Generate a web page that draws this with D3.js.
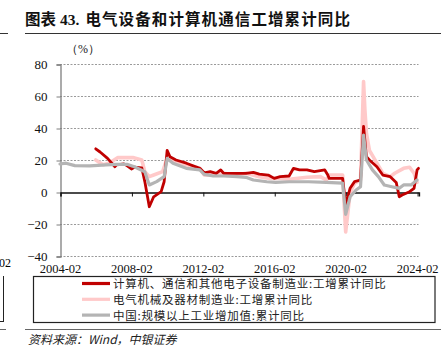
<!DOCTYPE html>
<html><head><meta charset="utf-8">
<script src="https://cdn.jsdelivr.net/npm/d3@7"></script>
<style>
html,body{margin:0;padding:0;background:#fff;}
svg{display:block;}
</style></head>
<body>
<script>
// ---- data ----
const seriesNames = ["计算机、通信和其他电子设备制造业:工增累计同比","电气机械及器材制造业:工增累计同比","中国:规模以上工业增加值:累计同比"];
const yTicks = [-40,-20,0,20,40,60,80];
const xTickLabels = ["2004-02","2008-02","2012-02","2016-02","2020-02","2024-02"];
const redData = [
["2006-02",27],["2006-05",25],["2006-10",21],["2007-03",15.8],["2007-04",17],["2007-09",17.5],["2007-11",16.5],
["2008-02",14.4],["2008-04",15.5],["2008-09",15],["2008-11",6.5],["2009-02",-9.2],["2009-05",-3],["2009-10",0.2],
["2009-12",6.4],["2010-02",26],["2010-04",22],["2010-08",20],["2011-03",18],["2011-12",14.8],["2012-03",12],
["2012-07",12.7],["2012-11",11.7],["2013-02",13.8],["2013-04",11.7],["2014-01",11.7],["2014-07",11.7],["2014-12",12.3],
["2015-04",11.2],["2015-10",10.6],["2016-02",8.5],["2016-06",9.6],["2016-12",10],["2017-03",14.8],["2017-07",13.8],
["2017-12",13.8],["2018-05",12.7],["2018-12",13.8],["2019-02",10.6],["2019-03",8.5],["2019-10",8.5],["2019-12",8.5],
["2020-02",-8],["2020-05",2.3],["2020-08",6.5],["2020-12",7.5],["2021-02",41],["2021-04",22],["2021-06",20],
["2021-11",15.8],["2022-03",10.6],["2022-08",9.6],["2022-12",6],["2023-02",-3],["2023-04",-1.9],["2023-09",0.2],
["2023-12",2.3],["2024-02",13.8],["2024-03",14.8]
];
const pinkData = [
["2006-02",20],["2006-07",17],["2006-11",18],["2007-05",21.5],["2008-03",21.5],["2008-09",20],["2008-11",12.7],
["2009-02",9.6],["2009-05",10.6],["2009-11",12.7],["2010-02",21],["2010-06",19],["2011-03",17],["2011-12",14.8],
["2012-03",10.6],["2012-09",10.6],["2013-04",11.7],["2014-01",10.6],["2014-07",11.7],["2015-04",9.6],["2015-11",8.5],
["2016-06",8.5],["2016-12",8],["2017-12",9.2],["2018-09",9.6],["2019-01",7.5],["2019-03",10.6],["2019-12",10.6],
["2020-02",-25],["2020-05",-0.6],["2020-08",5.6],["2020-12",7.5],["2021-02",69],["2021-03",51],["2021-04",36.7],
["2021-06",26],["2021-11",18],["2022-03",11.7],["2022-08",9.6],["2022-11",11.7],["2023-05",14.8],["2023-09",15.5],
["2023-12",11.7],["2024-02",6]
];
const grayData = [
["2004-02",17.5],["2004-06",18],["2004-12",16.5],["2005-10",16.3],["2006-09",17],["2007-04",17.3],["2007-11",17.3],
["2008-04",15.8],["2008-11",12.7],["2009-02",4.4],["2009-07",6.5],["2009-12",9.6],["2010-02",21],["2010-06",18],
["2011-03",14.8],["2011-12",13.8],["2012-03",11],["2012-09",10],["2013-04",10],["2014-01",9.6],["2014-07",9.2],
["2014-12",7.5],["2015-09",6.4],["2016-03",6],["2016-12",6.4],["2018-01",6.4],["2019-01",6],["2019-12",5.6],
["2020-02",-14],["2020-05",-3],["2020-09",1.25],["2020-12",3.3],["2021-02",35.6],["2021-04",20],["2021-08",13.8],
["2021-12",9.6],["2022-04",4.4],["2022-09",3.3],["2023-02",2.3],["2023-05",4.4],["2023-10",4.4],["2024-02",7.5]
];
const seriesColors = ["#c00000","#ffc9c9","#b4b4b4"];

// ---- chart ----
const W = 441, H = 357;
const svg = d3.select("body").append("svg").attr("width",W).attr("height",H);
const parse = d3.timeParse("%Y-%m");
const serif = "'Liberation Serif','Times New Roman',serif";
const cjk = "'Noto Sans CJK SC','Noto Sans',sans-serif";

const x = d3.scaleTime().domain([parse("2004-02"), parse("2024-03")]).range([60, 418.5]);
const y = d3.scaleLinear().domain([-40, 80]).range([256, 64]);

// decorations (title + rules)
svg.append("line").attr("x1",0).attr("x2",8).attr("y1",33.5).attr("y2",33.5).attr("stroke","#333").attr("stroke-width",1);
svg.append("line").attr("x1",25).attr("x2",441).attr("y1",33.5).attr("y2",33.5).attr("stroke","#333").attr("stroke-width",1.2);
const title = svg.append("text").attr("x",25).attr("y",25).attr("font-family",cjk).attr("font-weight",700)
  .attr("font-size",15.5).attr("fill","#111");
title.append("tspan").text("图表");
title.append("tspan").attr("font-family",serif).attr("dx",4).text("43.");
title.append("tspan").attr("dx",6).attr("letter-spacing",1.1).text("电气设备和计算机通信工增累计同比");

// stray edge marks
svg.append("text").attr("x",-1).attr("y",267).attr("font-family",serif).attr("font-size",12).text("02");
svg.append("line").attr("x1",3.5).attr("x2",3.5).attr("y1",276).attr("y2",322).attr("stroke","#222");
svg.append("line").attr("x1",0).attr("x2",3.5).attr("y1",321.5).attr("y2",321.5).attr("stroke","#222");
svg.append("line").attr("x1",0).attr("x2",6).attr("y1",329.5).attr("y2",329.5).attr("stroke","#666");

// unit
svg.append("text").attr("x",66).attr("y",53).attr("font-family",serif).attr("font-size",12).attr("fill","#222").text("（%）");

// grid
svg.append("g").selectAll("line").data(yTicks.filter(d=>d!==0)).join("line")
  .attr("x1",60).attr("x2",418.5).attr("y1",d=>Math.round(y(d))+0.5).attr("y2",d=>Math.round(y(d))+0.5)
  .attr("stroke","#9a9a9a").attr("stroke-width",1).attr("stroke-dasharray","2,1.5");

// y axis
const yAxis = svg.append("g").attr("transform","translate(60.5,0.5)")
  .call(d3.axisLeft(y).tickValues(yTicks).tickSize(4).tickPadding(9).tickFormat(d3.format("d")));
yAxis.select(".domain").attr("stroke","#7f7f7f").attr("stroke-width",1.3);
yAxis.selectAll(".tick line").attr("stroke","#7f7f7f");
yAxis.selectAll("text").attr("font-family",serif).attr("font-size",13).attr("fill","#111");

// x axis at zero with ticks
const xTickDates = xTickLabels.map(parse);
const xAxis0 = svg.append("g").attr("transform",`translate(0.5,${Math.round(y(0))+0.5})`)
  .call(d3.axisBottom(x).tickValues(xTickDates).tickSize(4).tickFormat(""));
xAxis0.select(".domain").attr("stroke","#111").attr("stroke-width",1.3);
xAxis0.selectAll(".tick line").attr("stroke","#111");
// x labels at bottom
const xAxisB = svg.append("g").attr("transform",`translate(0,${y(-40)})`)
  .call(d3.axisBottom(x).tickValues(xTickDates).tickSize(0).tickPadding(8).tickFormat(d3.timeFormat("%Y-%m")));
xAxisB.select(".domain").remove();
xAxisB.selectAll("text").attr("font-family",serif).attr("font-size",12.5).attr("fill","#111");

// lines
const line = d3.line().x(d=>x(parse(d[0]))).y(d=>y(d[1]));
const draw = (data,color,w)=>svg.append("path").datum(data).attr("d",line).attr("fill","none")
  .attr("stroke",color).attr("stroke-width",w).attr("stroke-linejoin","round").attr("stroke-linecap","round");
draw(pinkData,seriesColors[1],3.6);
draw(redData,seriesColors[0],2.8);
draw(grayData,seriesColors[2],3.2);

// legend
svg.append("rect").attr("x",33.5).attr("y",276.5).attr("width",401.5).attr("height",46)
  .attr("fill","none").attr("stroke","#222").attr("stroke-width",1.2);
const lg = svg.append("g").selectAll("g").data(seriesNames).join("g")
  .attr("transform",(d,i)=>`translate(0,${283.5+i*15.8})`);
lg.append("line").attr("x1",82).attr("x2",110).attr("stroke",(d,i)=>seriesColors[i]).attr("stroke-width",3.2);
lg.append("text").attr("x",113).attr("y",4.5).attr("font-family",cjk).attr("font-size",11.5)
  .attr("letter-spacing",0.75).attr("fill","#222").text(d=>d);

// bottom rule and source
svg.append("line").attr("x1",25).attr("x2",441).attr("y1",329.5).attr("y2",329.5).attr("stroke","#666").attr("stroke-width",1);
svg.append("text").attr("x",28).attr("y",344).attr("font-family",cjk).attr("font-size",12)
  .attr("font-style","italic").attr("fill","#222")
  .text("资料来源：Wind，中银证券");
</script>
</body></html>
